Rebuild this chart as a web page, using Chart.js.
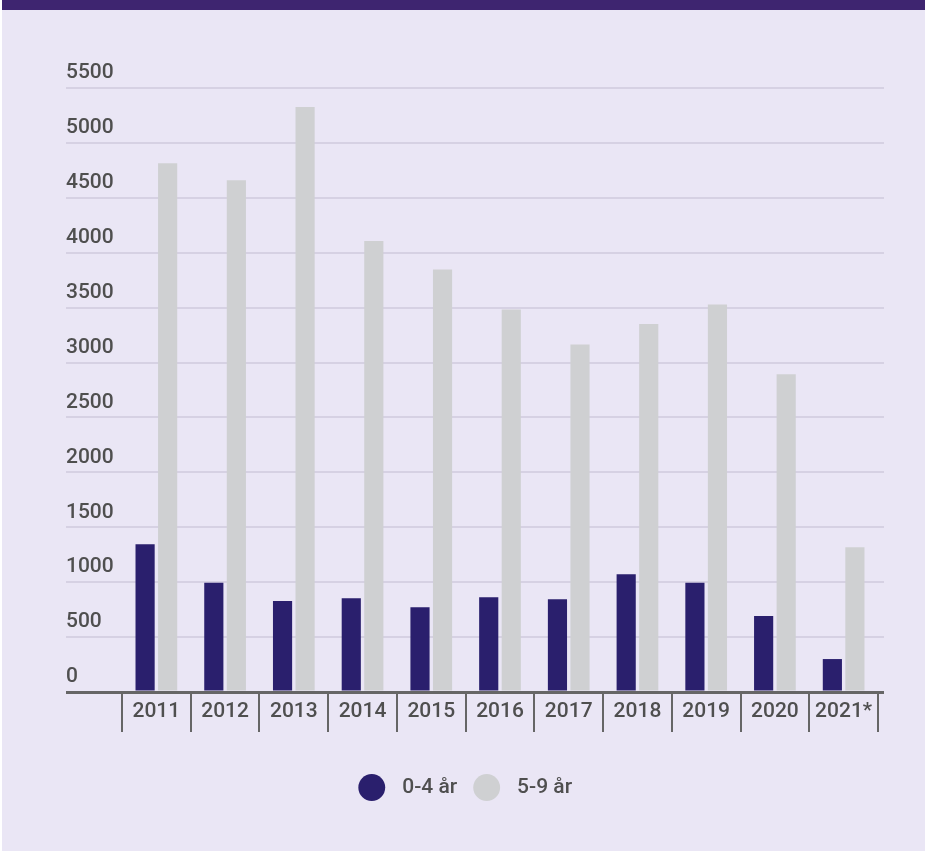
<!DOCTYPE html>
<html>
<head>
<meta charset="utf-8">
<script src="https://cdn.jsdelivr.net/npm/chart.js@4.4.1/dist/chart.umd.min.js"></script>
<style>
  html, body { margin: 0; padding: 0; background: #ffffff; }
  #page { position: absolute; left: 2px; top: 0; width: 923px; height: 851px; background: #eae6f5; }
  #header { height: 10px; background: #3e2570; }
  #wrap { position: absolute; left: 0; top: 10px; width: 923px; height: 841px; }
</style>
</head>
<body>
<div id="page">
  <div id="header"></div>
  <div id="wrap"><canvas id="barChart"></canvas></div>
</div>
<script>
// values
const years = ["2011", "2012", "2013", "2014", "2015", "2016", "2017", "2018", "2019", "2020", "2021*"];
const age04 = [1345, 995, 829, 853, 771, 862, 844, 1072, 995, 692, 300];
const age59 = [4815, 4660, 5328, 4107, 3847, 3483, 3164, 3352, 3528, 2893, 1318];
const seriesNames = ["0-4 år", "5-9 år"];
const yMin = 0;
const yMax = 5500;
const yStep = 500;

const textColor = "#4f4f4f";
const gridColor = "#d6d1e3";
const axisColor = "#666666";

Chart.defaults.font.family = "Roboto, 'Noto Sans', sans-serif";
Chart.defaults.font.size = 21;
Chart.defaults.font.weight = "500";
Chart.defaults.color = textColor;

// zero line is the dark baseline, others are light
const lineColor = ctx => (ctx.tick && ctx.tick.value === 0 ? axisColor : gridColor);
const lineWidth = ctx => (ctx.tick && ctx.tick.value === 0 ? 3 : 2);

const ctx = document.getElementById("barChart").getContext("2d");

new Chart(ctx, {
    type: "bar",
    data: {
        labels: years,
        datasets: [{
            label: seriesNames[0],
            data: age04,
            backgroundColor: "#2a1f6d",
            borderWidth: 0
        }, {
            label: seriesNames[1],
            data: age59,
            backgroundColor: "#cfd0d2",
            borderWidth: 0
        }]
    },
    options: {
        responsive: true,
        maintainAspectRatio: false,
        animation: false,
        datasets: {
            bar: {
                categoryPercentage: 0.656,
                barPercentage: 0.85
            }
        },
        layout: {
            padding: { left: 64, right: 41, top: 78, bottom: 43 }
        },
        scales: {
            x: {
                grid: {
                    drawOnChartArea: false,
                    drawTicks: true,
                    tickLength: 40,
                    color: axisColor,
                    lineWidth: 2
                },
                border: { display: false },
                ticks: {
                    padding: -33,
                    color: textColor,
                    maxRotation: 0,
                    autoSkip: false
                },
                afterFit: scale => { scale.height = 65; }
            },
            y: {
                position: "left",
                min: yMin,
                max: yMax,
                ticks: {
                    stepSize: yStep,
                    crossAlign: "far",
                    labelOffset: -15,
                    padding: 0,
                    color: textColor,
                    callback: value => String(value)
                },
                grid: {
                    color: lineColor,
                    tickColor: lineColor,
                    lineWidth: lineWidth,
                    tickLength: 56
                },
                border: { display: false },
                afterFit: scale => { scale.width = 56; }
            },
            y2: {
                position: "right",
                min: yMin,
                max: yMax,
                ticks: { display: false, stepSize: yStep },
                grid: {
                    drawOnChartArea: false,
                    color: lineColor,
                    tickColor: lineColor,
                    lineWidth: lineWidth,
                    tickLength: 6
                },
                border: { display: false },
                afterFit: scale => { scale.width = 6; }
            }
        },
        plugins: {
            legend: {
                position: "bottom",
                labels: {
                    usePointStyle: true,
                    pointStyle: "circle",
                    boxWidth: 19,
                    boxHeight: 19,
                    padding: 20,
                    color: textColor,
                    generateLabels: function(chart) {
                        const items = Chart.defaults.plugins.legend.labels.generateLabels(chart);
                        // leading gap after the dot, trailing gap on the last item to pull the row left
                        return items.map((item, i) => Object.assign(item, {
                            text: "  " + item.text + (i === items.length - 1 ? "   " : "")
                        }));
                    }
                }
            },
            tooltip: { enabled: false }
        }
    }
});
</script>
</body>
</html>
